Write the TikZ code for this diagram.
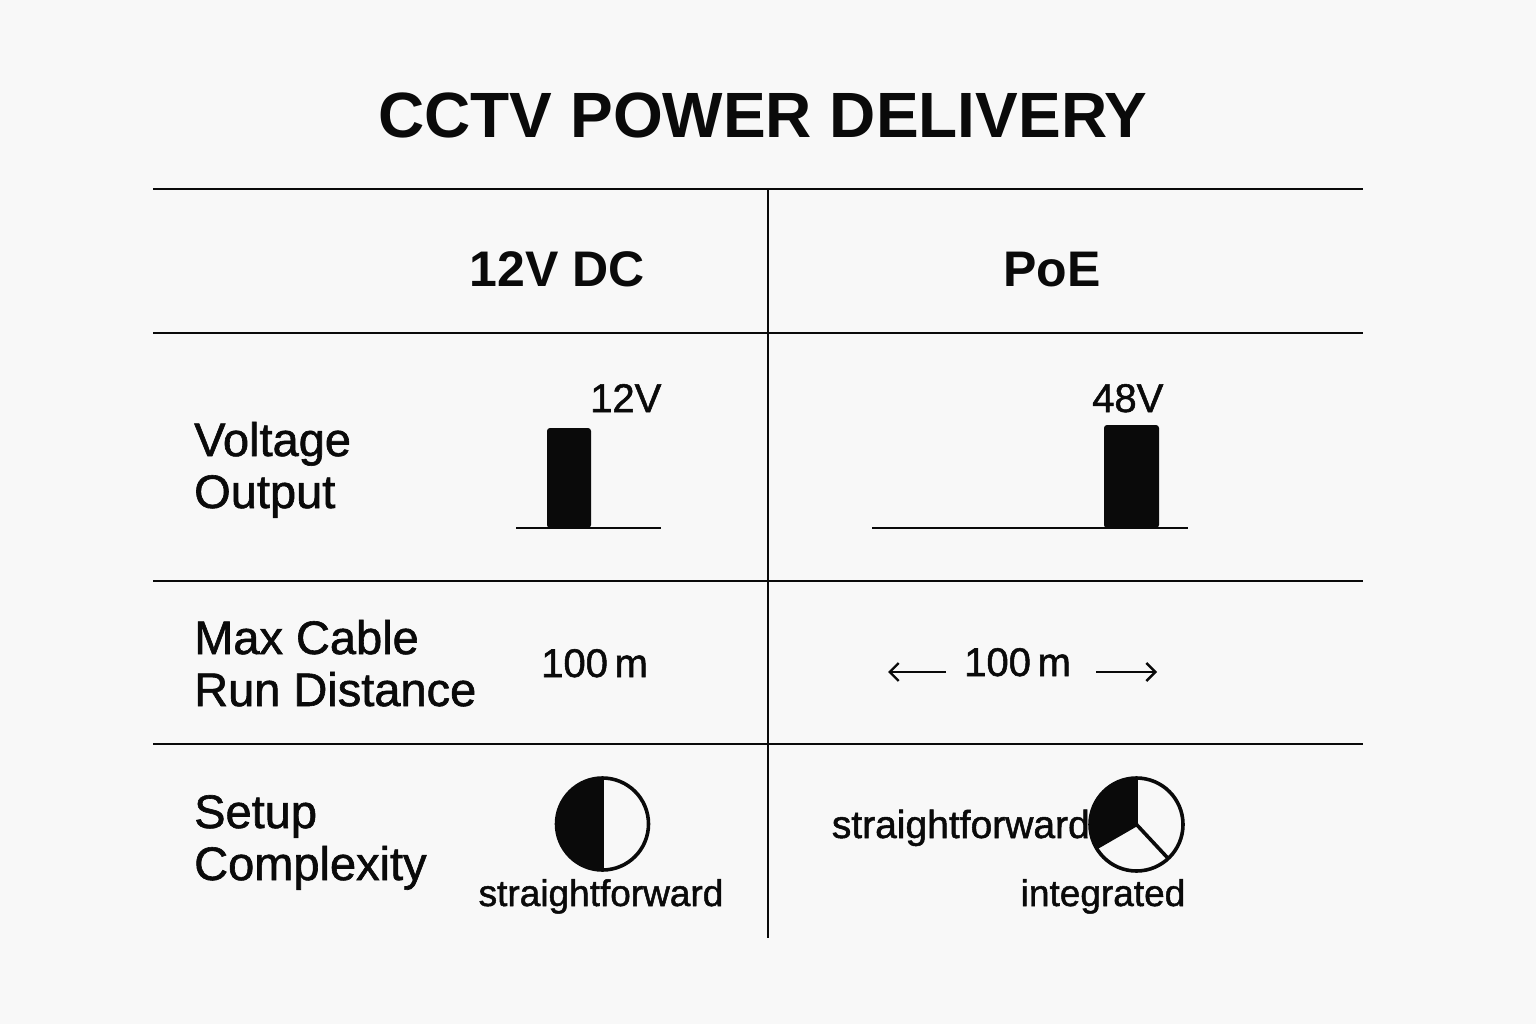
\documentclass[tikz,border=0pt]{standalone}
\usepackage{fontspec}
\setmainfont{Liberation Sans}
\newfontfamily\medfont[FakeBold=1.3]{Liberation Sans}
\usetikzlibrary{arrows.meta}
\definecolor{bg}{HTML}{F8F8F8}
\definecolor{ink}{HTML}{0A0A0A}
\tikzset{
  grid/.style={line width=2.4pt, draw=ink},
  titletxt/.style={font=\fontsize{64}{70}\selectfont\bfseries, text=ink, inner sep=0pt},
  headtxt/.style={font=\fontsize{50}{56}\selectfont\bfseries, text=ink, inner sep=0pt},
  rowtxt/.style={font=\medfont\fontsize{47}{52}\selectfont, text=ink, inner sep=0pt},
  valtxt/.style={font=\medfont\fontsize{40}{46}\selectfont, text=ink, inner sep=0pt},
  smalltxt/.style={font=\medfont\fontsize{37}{42}\selectfont, text=ink, inner sep=0pt},
  barbox/.style={fill=ink, rounded corners=3pt},
  baseln/.style={line width=2.6pt, draw=ink},
  pie/.style={line width=3.6pt, draw=ink},
  dimarrow/.style={line width=2.4pt, draw=ink, -{Straight Barb[length=9pt, width=18pt, line width=2.4pt]}}
}
\begin{document}
\begin{tikzpicture}[x=1pt, y=-1pt]
\fill[bg] (0,0) rectangle (1536,1024);
\useasboundingbox (0,0) rectangle (1536,1024);

% title
\node[titletxt, anchor=base] (title) at (763,138) {CCTV POWER DELIVERY};

% grid
\coordinate (h1l) at (153,189); \coordinate (h1r) at (1363,189);
\coordinate (h2l) at (153,333); \coordinate (h2r) at (1363,333);
\coordinate (h3l) at (153,581); \coordinate (h3r) at (1363,581);
\coordinate (h4l) at (153,744); \coordinate (h4r) at (1363,744);
\coordinate (vt) at (768,189); \coordinate (vb) at (768,938);
\draw[grid] (h1l) -- (h1r);
\draw[grid] (h2l) -- (h2r);
\draw[grid] (h3l) -- (h3r);
\draw[grid] (h4l) -- (h4r);
\draw[grid] (vt) -- (vb);

% headers
\node[headtxt, anchor=base] (hdc) at (557,287) {12V DC};
\node[headtxt, anchor=base] (hpoe) at (1052,287) {PoE};

% row labels
\node[rowtxt, anchor=base west] (r1a) at (194,456) {Voltage};
\node[rowtxt, anchor=base west] (r1b) at (194,508) {Output};
\node[rowtxt, anchor=base west] (r2a) at (194,654) {Max Cable};
\node[rowtxt, anchor=base west] (r2b) at (194,706) {Run Distance};
\node[rowtxt, anchor=base west] (r3a) at (194,828) {Setup};
\node[rowtxt, anchor=base west] (r3b) at (194,880) {Complexity};

% voltage row
\node[valtxt, anchor=base west] (v12) at (590,412) {12V};
\fill[barbox] (547,528) rectangle (591,428);
\draw[baseln] (516,528) -- (661,528);
\node[valtxt, anchor=base west] (v48) at (1092,412) {48V};
\fill[barbox] (1104,528) rectangle (1159,425);
\draw[baseln] (872,528) -- (1188,528);

% distance row
\node[valtxt, anchor=base west] (d1) at (541,677) {100\,m};
\node[valtxt, anchor=base west] (d2) at (964,676) {100\,m};
\coordinate (la) at (946,672); \coordinate (lb) at (888,672);
\coordinate (ra) at (1096,672); \coordinate (rb) at (1157,672);
\draw[dimarrow] (la) -- (lb);
\draw[dimarrow] (ra) -- (rb);

% complexity row
\coordinate (c1) at (602.5,824);
\fill[ink] (602.5,778) arc[start angle=270, end angle=90, radius=46] -- cycle;
\draw[pie] (c1) circle[radius=46];
\draw[pie] (602.5,778) -- (602.5,870);
\node[smalltxt, anchor=base] (s1) at (601,906) {straightforward};

\coordinate (c2) at (1136.5,824.5);
\fill[ink] (c2) -- ++(270:46.5) arc[start angle=270, end angle=150, radius=46.5] -- cycle;
\draw[pie] (c2) circle[radius=46.5];
\draw[pie] (c2) -- ++(270:46.5);
\draw[pie] (c2) -- ++(150:46.5);
\draw[pie] (c2) -- ++(47:46.5);
\node[valtxt, font=\medfont\fontsize{39}{44}\selectfont, anchor=base east] (s2) at (1090,838) {straightforward};
\node[smalltxt, anchor=base] (s3) at (1103,906) {integrated};
\end{tikzpicture}
\end{document}
